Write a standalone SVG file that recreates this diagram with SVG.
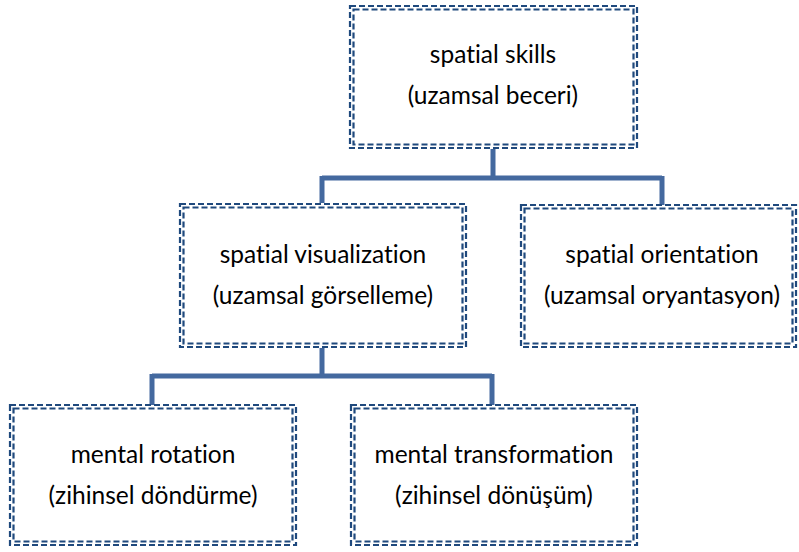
<svg xmlns="http://www.w3.org/2000/svg" width="799" height="552" viewBox="0 0 799 552">
<style>
.b{fill:#fff;stroke:#1f497d;stroke-width:2.2;stroke-dasharray:6 3}
.bi{fill:none;stroke:#1f497d;stroke-width:2.2;stroke-dasharray:6 3}
.c{fill:none;stroke:#44699f;stroke-width:5}
text{font-family:Lato,"Open Sans",sans-serif;font-size:24.5px;fill:#000;text-anchor:middle;font-variant-ligatures:none}
</style>
<rect width="799" height="552" fill="#fff"/>
<g id="connectors">
<path class="c" d="M493 149V178M322 178H662M322 176V203M662 176V205"/>
<path class="c" d="M322 348V376M152 376H492M152 374V405M492 374V405"/>
</g>
<g id="n1">
<rect class="b" x="350" y="6" width="287" height="142"/>
<rect class="bi" x="353.5" y="9.5" width="280" height="135"/>
<text x="493" y="63">spatial skills</text>
<text x="493" y="104">(uzamsal beceri)</text>
</g>
<g id="n2">
<rect class="b" x="180" y="204" width="286" height="143"/>
<rect class="bi" x="183.5" y="207.5" width="279" height="136"/>
<text x="323" y="263">spatial visualization</text>
<text x="323" y="304">(uzamsal görselleme)</text>
</g>
<g id="n3">
<rect class="b" x="521" y="205" width="275" height="142"/>
<rect class="bi" x="524.5" y="208.5" width="268" height="135"/>
<text x="662" y="263">spatial orientation</text>
<text x="662" y="304">(uzamsal oryantasyon)</text>
</g>
<g id="n4">
<rect class="b" x="10" y="405" width="286" height="140"/>
<rect class="bi" x="13.5" y="408.5" width="279" height="133"/>
<text x="153" y="463">mental rotation</text>
<text x="153" y="504">(zihinsel döndürme)</text>
</g>
<g id="n5">
<rect class="b" x="351" y="405" width="286" height="140"/>
<rect class="bi" x="354.5" y="408.5" width="279" height="133"/>
<text x="494" y="463">mental transformation</text>
<text x="494" y="504">(zihinsel dönüşüm)</text>
</g>
</svg>
